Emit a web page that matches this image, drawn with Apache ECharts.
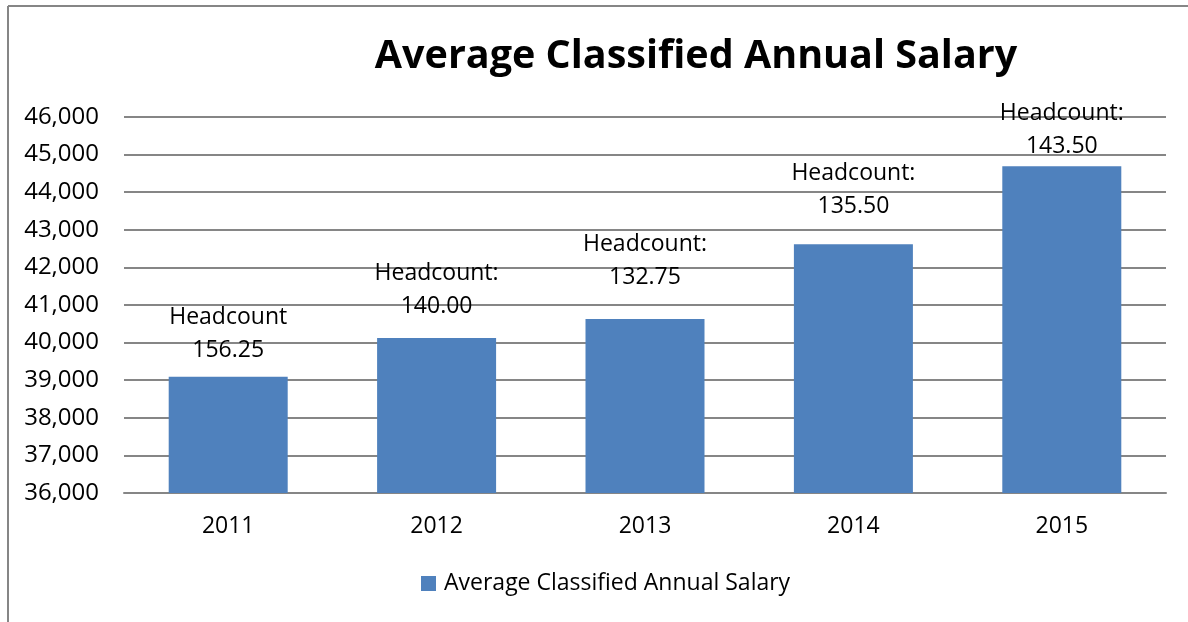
<!DOCTYPE html>
<html>
<head>
<meta charset="utf-8">
<script src="https://cdn.jsdelivr.net/npm/echarts@6/dist/echarts.min.js"></script>
<style>
  html, body { margin: 0; padding: 0; background: #fff; }
  #main { width: 1188px; height: 622px; }
</style>
</head>
<body>
<div id="main"></div>
<script>
const years = ['2011', '2012', '2013', '2014', '2015']
const salary = [39090, 40120, 40630, 42615, 44690]
const headcountLabels = ['Headcount\n156.25', 'Headcount:\n140.00', 'Headcount:\n132.75', 'Headcount:\n135.50', 'Headcount:\n143.50']

const font = 'Open Sans, Liberation Sans, sans-serif'
// the labels were nudged by hand in the original, so each sits at its own gap above the bar
const labelGap = [10, 15, 25, 21, 3]

const chart = echarts.init(document.getElementById('main'))

const option = {
  animation: false,
  // chart frame: only the top and left edges show in the picture
  graphic: [
    { type: 'line', shape: { x1: 8, y1: 6, x2: 1188, y2: 6 }, style: { stroke: '#868686', lineWidth: 2 } },
    { type: 'line', shape: { x1: 8, y1: 6, x2: 8, y2: 622 }, style: { stroke: '#868686', lineWidth: 2 } }
  ],
  title: {
    text: 'Average Classified Annual Salary',
    left: 691,
    textAlign: 'center',
    top: 32,
    textStyle: { fontFamily: font, fontSize: 39.5, fontWeight: 'bold', color: '#000' }
  },
  legend: {
    top: 572,
    left: 421,
    padding: 0,
    itemWidth: 15,
    itemHeight: 15,
    icon: 'rect',
    textStyle: { fontFamily: font, fontSize: 23, color: '#000', padding: [0, 0, 0, 3] },
    data: ['Average Classified Annual Salary']
  },
  grid: { left: 124, right: 22, top: 117, bottom: 129, containLabel: false },
  xAxis: {
    type: 'category',
    data: years,
    axisLine: { lineStyle: { color: '#868686', width: 2 } },
    axisTick: { show: false },
    axisLabel: { fontFamily: font, fontSize: 23, color: '#000', margin: 22 }
  },
  yAxis: {
    type: 'value',
    min: 36000,
    max: 46000,
    interval: 1000,
    axisLine: { show: false },
    axisTick: { show: false },
    axisLabel: {
      fontFamily: font, fontSize: 24, color: '#000', margin: 25,
      formatter: v => v.toLocaleString('en-US')
    },
    splitLine: { lineStyle: { color: '#868686', width: 2 } }
  },
  series: [{
    name: 'Average Classified Annual Salary',
    type: 'bar',
    data: salary.map((v, i) => ({ value: v, label: { distance: labelGap[i] } })),
    barWidth: 119,
    itemStyle: { color: '#4F81BD' },
    label: {
      show: true,
      position: 'top',
      formatter: p => headcountLabels[p.dataIndex],
      fontFamily: font,
      fontSize: 23,
      lineHeight: 33,
      color: '#000'
    }
  }]
}

chart.setOption(option)
</script>
</body>
</html>
